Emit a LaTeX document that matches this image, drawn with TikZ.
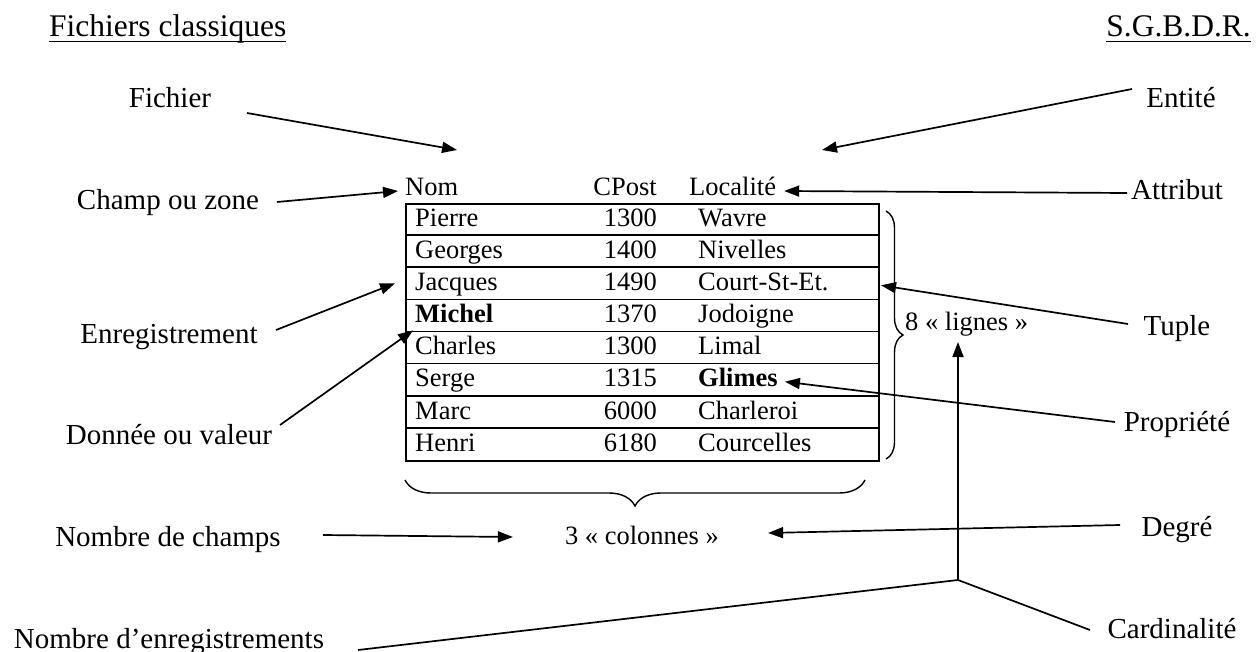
\documentclass[tikz,border=0pt]{standalone}
\usepackage{fontspec}
\setmainfont{Liberation Serif}
\usetikzlibrary{arrows.meta,decorations.pathreplacing}
\begin{document}
\begin{tikzpicture}[x=1pt,y=-1pt,
  lbl/.style={inner sep=0pt, font=\fontsize{29}{33}\selectfont, text height=21.5pt, text depth=5.5pt},
  cell/.style={inner sep=0pt, font=\fontsize{26.5}{30}\selectfont, text height=19.6pt, text depth=5pt},
  ttl/.style={inner sep=0pt, font=\fontsize{31.5}{36}\selectfont, text height=23.3pt, text depth=6pt},
  arr/.style={line width=1.7pt, -{Triangle[length=15pt,width=11pt]}},
  ln/.style={line width=1.7pt},
  brc/.style={line width=1.4pt, decorate}]
\useasboundingbox (0,0) rectangle (1257,652);
% titles
\node[ttl, anchor=west] (t1) at (49,28) {Fichiers classiques};
\node[ttl, anchor=east] (t2) at (1251,28) {S.G.B.D.R.};
\draw[line width=1.7pt] ([yshift=-5pt]t1.base west) -- ([yshift=-5pt]t1.base east);
\draw[line width=1.7pt] ([yshift=-5pt]t2.base west) -- ([yshift=-5pt]t2.base east);
% left labels
\node[lbl] (fichier) at (170,100) {Fichier};
\node[lbl] (champ) at (168,202) {Champ ou zone};
\node[lbl] (enreg) at (169,335) {Enregistrement};
\node[lbl] (donnee) at (169,436) {Donnée ou valeur};
\node[lbl] (nbchamps) at (168,538) {Nombre de champs};
\node[lbl] (nbenreg) at (169,640) {Nombre d’enregistrements};
% right labels
\node[lbl] (entite) at (1181,100) {Entité};
\node[lbl] (attribut) at (1177,192) {Attribut};
\node[lbl] (tuple) at (1177,327) {Tuple};
\node[lbl] (propriete) at (1177,423) {Propriété};
\node[lbl] (degre) at (1177,528) {Degré};
\node[lbl] (cardinalite) at (1172,630) {Cardinalité};
% header
\node[cell, anchor=west] (hnom) at (405,188) {Nom};
\node[cell, anchor=east] (hcpost) at (657,188) {CPost};
\node[cell, anchor=west] (hloc) at (689,188) {Localité};
% table
\node[draw, line width=1.7pt, minimum width=473pt, minimum height=257pt, inner sep=0pt, anchor=north west] (tbl) at (405,203) {};
\foreach \k in {1,...,7} \draw[ln] (405,{203+32.125*\k}) -- (878,{203+32.125*\k});
\foreach \n/\c/\l [count=\i] in {Pierre/1300/Wavre, Georges/1400/Nivelles, Jacques/1490/Court-St-Et., \textbf{Michel}/1370/Jodoigne, Charles/1300/Limal, Serge/1315/\textbf{Glimes}, Marc/6000/Charleroi, Henri/6180/Courcelles}{
  \node[cell, anchor=west] (n\i) at (415,{203+32.125*(\i-0.5)}) {\n};
  \node[cell, anchor=east] (c\i) at (657,{203+32.125*(\i-0.5)}) {\c};
  \node[cell, anchor=west] (l\i) at (698,{203+32.125*(\i-0.5)}) {\l};
}
% braces
\draw[brc, decoration={brace, amplitude=17pt}] (886,211) -- (886,459);
\draw[brc, decoration={brace, amplitude=26pt}] (865,480) -- (405,480);
\node[cell, anchor=west] (lignes) at (905,323) {8 « lignes »};
\node[cell] (colonnes) at (642,537) {3 « colonnes »};
% free ends
\coordinate (fichierTip) at (457,150);
\coordinate (entiteTip) at (822,150);
\coordinate (junction) at (958,580);
\coordinate (lignesTip) at (958,342);
% connectors
\draw[arr] ([shift={(77,13)}]fichier.center) -- (fichierTip);
\draw[arr] ([shift={(-49,-11)}]entite.center) -- (entiteTip);
\draw[arr] ([shift={(109,0)}]champ.center) -- ([shift={(-7,3)}]hnom.west);
\draw[arr] ([shift={(-50,1)}]attribut.center) -- ([shift={(8,3)}]hloc.east);
\draw[arr] ([shift={(107,-5)}]enreg.center) -- ([shift={(-20,0)}]n3.west);
\draw[arr] ([shift={(-49,-3)}]tuple.center) -- ([shift={(466,2)}]n3.west);
\draw[arr] ([shift={(111,-11)}]donnee.center) -- ([shift={(-2,15)}]n4.west);
\draw[arr] ([shift={(-62,-1)}]propriete.center) -- ([shift={(7,2)}]l6.east);
\draw[arr] ([shift={(155,-3)}]nbchamps.center) -- ([shift={(-52,0)}]colonnes.west);
\draw[arr] ([shift={(-57,-3)}]degre.center) -- ([shift={(49,-4)}]colonnes.east);
\draw[ln] ([shift={(189,10)}]nbenreg.center) -- (junction) -- ([shift={(-82,0)}]cardinalite.center);
\draw[arr] (junction) -- (lignesTip);
\end{tikzpicture}
\end{document}
